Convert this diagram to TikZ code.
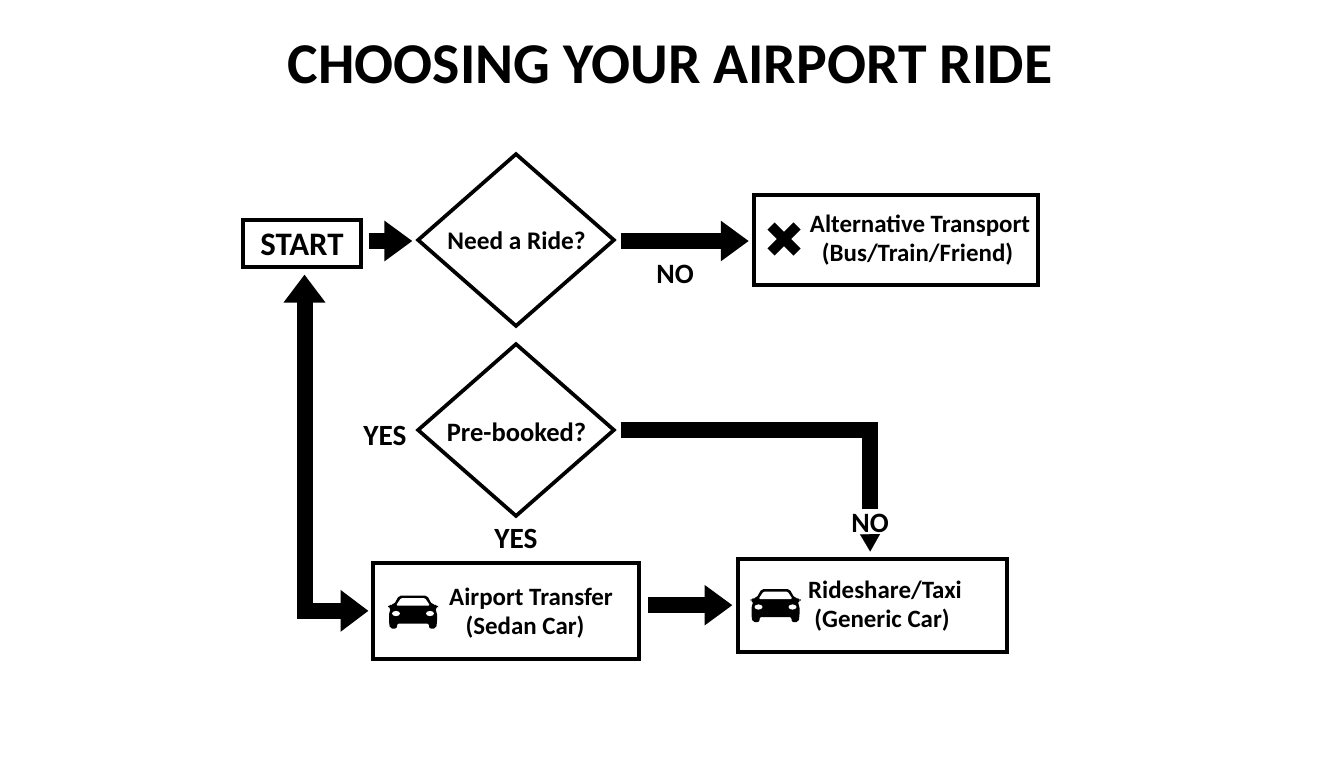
\documentclass[tikz,border=0pt]{standalone}
\usepackage{fontspec}
\setmainfont{Carlito}[BoldFont={Carlito Bold}]
\usetikzlibrary{shapes.geometric,arrows.meta,calc}
\tikzset{
  x=0.75pt,y=-0.75pt,
  boxnode/.style={draw=black,line width=3pt,fill=white,inner sep=0pt,anchor=north west},
  decision/.style={diamond,draw=black,line width=2.8pt,fill=white,inner sep=0pt,minimum width=148pt,minimum height=130pt,aspect=1.14},
  lbl/.style={font=\bfseries\fontsize{18.7pt}{21.7pt}\selectfont,align=center,inner sep=0pt,text=black},
  qlbl/.style={font=\bfseries\fontsize{19pt}{22pt}\selectfont,inner sep=0pt,text=black},
  answer/.style={font=\bfseries\fontsize{22pt}{25pt}\selectfont,inner sep=0pt,text=black},
  nolbl/.style={font=\bfseries\fontsize{21pt}{24pt}\selectfont,inner sep=0pt,text=black},
  big/.style={font=\bfseries\fontsize{24.6pt}{28pt}\selectfont,inner sep=0pt},
  conn/.style={line width=12pt,draw=black,-{Triangle[length=21pt,width=29pt]}},
  small/.style={line width=.1pt,draw=black,-{Triangle[length=13pt,width=15pt]}},
  pics/car/.style={code={
    \fill[black,rounded corners=1.5pt] (11,1) -- (39,1) -- (44,10) -- (46,10) -- (50,11) -- (50,13) -- (47,14) -- (49,18) -- (49,28) -- (48,34) -- (41,34) -- (41,29) -- (9,29) -- (9,34) -- (2,34) -- (1,28) -- (1,18) -- (3,14) -- (0,13) -- (0,11) -- (4,10) -- (6,10) -- cycle;
    \fill[white,rounded corners=1pt] (13,3.5) -- (37,3.5) -- (42,11) -- (8,11) -- cycle;
    \fill[white] (8,19) ellipse[x radius=4,y radius=2.6];
    \fill[white] (42,19) ellipse[x radius=4,y radius=2.6];
  }}
}
\begin{document}
\begin{tikzpicture}
\useasboundingbox (0,0) rectangle (1344,768);
\node[font=\bfseries\fontsize{43.3pt}{50pt}\selectfont,inner sep=0pt] (title) at (670,65) {CHOOSING YOUR AIRPORT RIDE};

\node[boxnode,minimum width=88.5pt,minimum height=35.25pt] (start) at (240.5,217.5) {};
\node[big] (starttxt) at (302,245) {START};
\node[decision] (need) at (516,240) {};
\node[qlbl] (needtxt) at (516.5,241) {Need a Ride?};
\node[decision] (pre) at (516,430) {};
\node[qlbl,font=\bfseries\fontsize{19.9pt}{22pt}\selectfont] (pretxt) at (516.5,432) {Pre-booked?};
\node[boxnode,minimum width=213pt,minimum height=68pt] (alt) at (751.5,192.5) {};
\node[boxnode,minimum width=199.5pt,minimum height=72.5pt] (air) at (370.5,560.5) {};
\node[boxnode,minimum width=202pt,minimum height=70pt] (ride) at (735.5,556.5) {};

\node[lbl] (alttxt) at (920,240) {Alternative Transport\\(Bus/Train/Friend)\hspace*{3.75pt}};
\node[lbl] (airtxt) at (531,613) {Airport Transfer\\(Sedan Car)\hspace*{9pt}};
\node[lbl] (ridetxt) at (885,606) {Rideshare/Taxi\\(Generic Car)\hspace*{4.5pt}};

\draw[black,line width=7.5pt] (771,226) -- (797,252) (797,226) -- (771,252);
\pic at (388,594.5) {car};
\pic at (750.5,588) {car};

\node[nolbl] (no1) at (675,274) {NO};
\node[answer] (yes1) at (385,436) {YES};
\node[answer] (yes2) at (516,539) {YES};
\node[nolbl] (no2) at (870,523) {NO};

\coordinate (p1) at ($(need.west)+(-3,1)$);
\draw[conn,shorten <=4.5pt] (p1 -| start.east) -- (p1);
\coordinate (p2) at ($(need.east)+(4,1)$);
\draw[conn,shorten >=2pt] (p2) -- (p2 -| alt.west);
\draw[conn,{Triangle[length=21pt,width=30pt]}-{Triangle[length=21pt,width=30pt]}] ($(start.south)+(3,6)$) |- ($(air.west)+(-2,0)$);
\coordinate (p3) at ($(ride.west)+(-3,0)$);
\draw[conn,shorten <=5.5pt] (p3 -| air.east) -- (p3);
\draw[line width=12pt,draw=black] ($(pre.east)+(4,0)$) -| ($(no2.north)+(0,-4)$);
\draw[small] ($(no2.south)+(0,3)$) -- ($(ride.north)+(-2,-5)$);
\end{tikzpicture}
\end{document}
